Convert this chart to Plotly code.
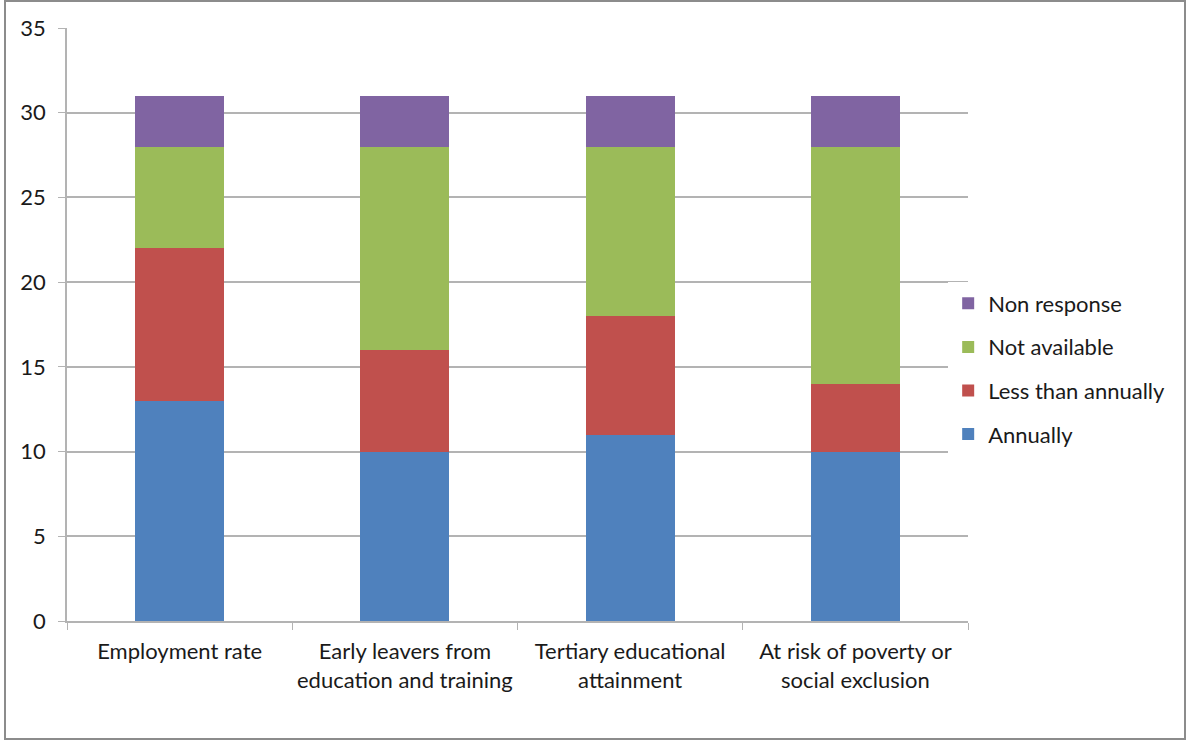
import plotly.graph_objects as go

categories = ["Employment rate", "Early leavers from<br>education and training",
              "Tertiary educational<br>attainment", "At risk of poverty or<br>social exclusion"]
annually = [13, 10, 11, 10]
less_than_annually = [9, 6, 7, 4]
not_available = [6, 12, 10, 14]
non_response = [3, 3, 3, 3]

series = [
    ("Annually", annually, "#4F81BD"),
    ("Less than annually", less_than_annually, "#C0504D"),
    ("Not available", not_available, "#9BBB59"),
    ("Non response", non_response, "#8064A2"),
]

W, H = 1186, 742
L, R, T, B = 67, 968, 28, 621

fig = go.Figure()
n = len(series)
for i, (name, vals, col) in enumerate(series):
    fig.add_trace(go.Bar(x=categories, y=vals, name=name, legendgroup=name,
                         legendrank=n - i,
                         marker=dict(color=col, line=dict(width=0))))

font = dict(family="Lato, 'Open Sans', sans-serif", size=22, color="#1a1a1a")
fig.update_layout(
    width=W, height=H, barmode="stack", bargap=0.605,
    margin=dict(l=L, r=W - R, t=T, b=H - B, autoexpand=False),
    paper_bgcolor="white", plot_bgcolor="white", font=font,
    legend=dict(traceorder="grouped", tracegroupgap=12, x=0.978, xanchor="left",
                y=0.425, yanchor="middle", font=dict(size=22), itemwidth=30),
    showlegend=True,
)
fig.update_yaxes(range=[0, 35], dtick=5, showgrid=True, gridcolor="#B3B3B3", gridwidth=1.5,
                 showline=True, linecolor="#B3B3B3", linewidth=1.5, ticks="outside",
                 ticklen=7, tickcolor="#B3B3B3", zeroline=False, ticklabelstandoff=8)
fig.update_xaxes(showline=True, linecolor="#B3B3B3", linewidth=1.5, ticks="outside",
                 tickson="boundaries", ticklen=7, tickcolor="#B3B3B3", showgrid=False,
                 ticklabelstandoff=10)

pw, ph = R - L, B - T
fig.add_shape(type="rect", xref="paper", yref="paper",
              x0=(5 - L) / pw, x1=(1185 - L) / pw,
              y0=(B - 739) / ph, y1=(B - 1) / ph,
              line=dict(color="#8C8C8C", width=2), fillcolor="rgba(0,0,0,0)", layer="below")

fig.write_html("out.html")
